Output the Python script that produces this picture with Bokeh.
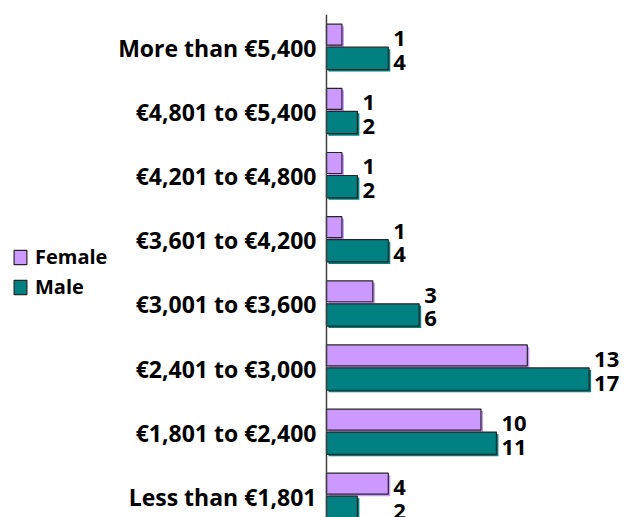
from bokeh.plotting import figure
from bokeh.models import ColumnDataSource, Legend, LegendItem, Range1d, Span
from bokeh.embed import file_html
from bokeh.resources import INLINE
from bokeh.core.properties import value

# ---- data (bottom to top) ----
categories = ["Less than €1,801", "€1,801 to €2,400", "€2,401 to €3,000",
              "€3,001 to €3,600", "€3,601 to €4,200", "€4,201 to €4,800",
              "€4,801 to €5,400", "More than €5,400"]
female = [4, 10, 13, 3, 1, 1, 1, 1]
male = [2, 11, 17, 6, 4, 2, 2, 4]

FEMALE_COLOR = "#cc99ff"
MALE_COLOR = "#008080"
OUTLINE = "#262626"
FONT = "Open Sans"

pos = list(range(len(categories)))
b = [i + 0.03 for i in pos]  # boundary between female and male bar
f_y = [v + 0.176 for v in b]
m_y = [v - 0.193 for v in b]
f_h, m_h = 0.327, 0.348
dx, dy = 0.13, -0.031

src = ColumnDataSource(dict(
    f=female, m=male, fy=f_y, my=m_y, cy=pos, cat=categories,
    zero=[0] * len(pos),
    fs_y=[v + dy for v in f_y], ms_y=[v + dy for v in m_y],
    fs_l=[dx] * len(pos), fs_r=[v + dx for v in female],
    ms_r=[v + dx for v in male],
    lx=[max(a, c) for a, c in zip(female, male)],
    flab=[str(v) for v in female], mlab=[str(v) for v in male],
))

p = figure(width=624, height=517, output_backend="svg", toolbar_location=None,
           x_range=Range1d(-21.1, 19.29), y_range=Range1d(-0.321, 7.521),
           min_border_left=0, min_border_top=14, min_border_bottom=0,
           min_border_right=0)

# shadows
p.hbar(y="fs_y", left="fs_l", right="fs_r", height=f_h, source=src,
       fill_color=FEMALE_COLOR, line_color=None)
p.hbar(y="ms_y", left="fs_l", right="ms_r", height=m_h, source=src,
       fill_color=MALE_COLOR, line_color=None)
# main bars
rf = p.hbar(y="fy", left=0, right="f", height=f_h, source=src,
            fill_color=FEMALE_COLOR, line_color=OUTLINE, line_width=1.2)
rm = p.hbar(y="my", left=0, right="m", height=m_h, source=src,
            fill_color=MALE_COLOR, line_color=OUTLINE, line_width=1.2)

# category axis line
p.add_layout(Span(location=0, dimension="height", line_color="#404040",
                  line_width=1.5))

# category labels
p.text(x="zero", y="cy", text="cat", source=src, x_offset=-10,
       text_font=value(FONT), text_font_style="bold", text_font_size="23px",
       text_color="black", text_align="right", text_baseline="middle")

# value labels
for ycol, tcol in (("fy", "flab"), ("my", "mlab")):
    p.text(x="lx", y=ycol, text=tcol, source=src, x_offset=5, y_offset=4,
           text_font=value(FONT), text_font_style="bold", text_font_size="22px",
           text_color="black", text_align="left", text_baseline="middle")

p.axis.visible = False
p.grid.visible = False
p.outline_line_color = None

legend = Legend(items=[LegendItem(label="Female", renderers=[rf]),
                       LegendItem(label="Male", renderers=[rm])],
                location=(12, 217), orientation="vertical",
                label_text_font=FONT, label_text_font_style="bold",
                label_text_font_size="20px", label_text_color="black",
                glyph_width=16, glyph_height=18, label_standoff=7,
                label_height=20, spacing=3, padding=0, margin=0,
                border_line_color=None, background_fill_alpha=0)
p.add_layout(legend, "center")

open("out.html", "w").write(file_html(p, INLINE))
